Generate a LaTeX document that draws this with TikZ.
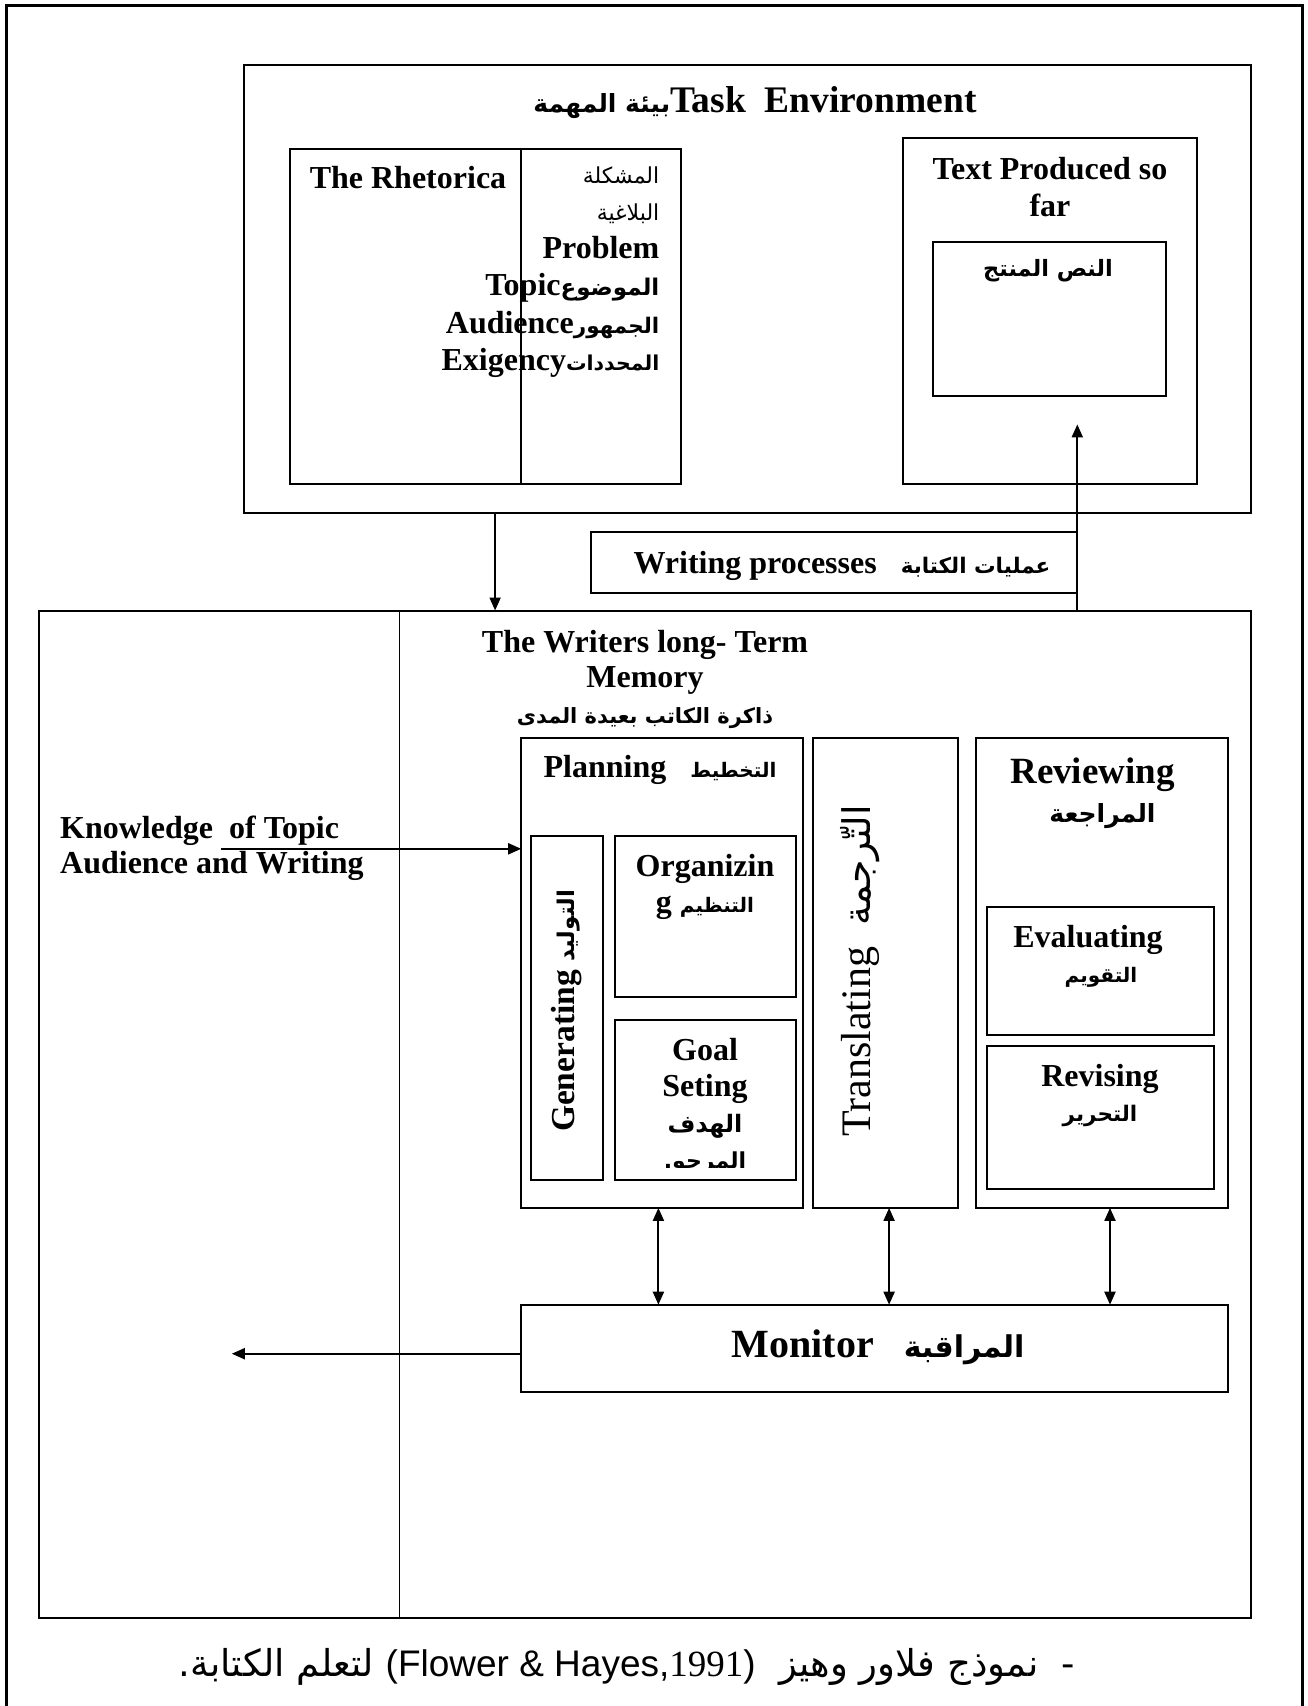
\documentclass[tikz,border=0pt]{standalone}
\usepackage{fontspec}
\setmainfont{Liberation Serif}
\newfontfamily\ar[Script=Arabic]{DejaVu Sans}
\newfontfamily\arial{Liberation Sans}
\TeXXeTstate=1
\usetikzlibrary{arrows.meta}
% right-to-left Arabic run at a given size (pt)
\newcommand{\arb}[2]{{\ar\fontsize{#1}{\baselineskip}\selectfont\beginR #2\endR}}

\begin{document}
\begin{tikzpicture}[x=1pt,y=-1pt,
  box/.style={draw, line width=2pt, inner sep=0pt, outer sep=0pt, anchor=north west},
  lbl/.style={inner sep=0pt, align=center, font=\bfseries\fontsize{32}{36}\selectfont},
  conn/.style={line width=2pt, -{Triangle[length=13pt,width=11pt]}},
  both/.style={line width=2pt, {Triangle[length=13pt,width=11pt]}-{Triangle[length=13pt,width=11pt]}},
]
\useasboundingbox (0,0) rectangle (1308,1706);

% page frame, open at the bottom
\draw[line width=3pt] (6,1706) -- (6,5.5) -- (1302,5.5) -- (1302,1706);

% ---------- task environment ----------
\node[box, minimum width=1007.6pt, minimum height=447.2pt] (te) at (243.8,65.3) {};
\node[lbl, font=\bfseries\fontsize{37.5}{40}\selectfont] (tet) at (755,103)
  {\arb{25}{بيئة المهمة}Task\ \ Environment};

\node[box, minimum width=391.7pt, minimum height=335.3pt] (rh) at (289.5,149) {};
\coordinate (rhdt) at (521.2,149);
\coordinate (rhdb) at (521.2,484.3);
\draw[line width=1.5pt] (rhdt) -- (rhdb);
\node[lbl] (rht) at (408,178) {The Rhetorica};
\node[lbl, align=right, anchor=east, font=\bfseries\fontsize{32}{37.5}\selectfont] (rhl) at (659.5,272)
  {{\mdseries\arb{22}{المشكلة}}\\
   {\mdseries\arb{22}{البلاغية}}\\
   Problem\\
   Topic\arb{23}{الموضوع}\\
   Audience\arb{21.5}{الجمهور}\\
   Exigency\arb{20.5}{المحددات}};

\node[box, minimum width=293.8pt, minimum height=346.1pt] (tp) at (903.2,138.2) {};
\node[lbl, font=\bfseries\fontsize{32}{37}\selectfont] (tpt) at (1050,187) {Text Produced so\\far};
\node[box, minimum width=232.9pt, minimum height=154.5pt] (np) at (932.6,241.6) {};
\node[lbl] (npt) at (1048,271) {\arb{22.5}{النص المنتج}};

% ---------- writing processes ----------
\node[box, minimum width=486.4pt, minimum height=61pt] (wp) at (590.9,532.1) {};
\node[lbl] (wpt) at (842,566) {Writing processes\ \ \ \arb{21.5}{عمليات الكتابة}};

% ---------- long-term memory and processes ----------
\node[box, minimum width=1212.2pt, minimum height=1007.6pt] (ltm) at (39.2,610.5) {};
\coordinate (ltmdt) at (399.4,610.5);
\coordinate (ltmdb) at (399.4,1618.1);
\draw[line width=1.5pt] (ltmdt) -- (ltmdb);
\node[lbl, font=\bfseries\fontsize{32}{35.5}\selectfont] (ltmt) at (645,679)
  {The Writers long- Term\\Memory\\\arb{21}{ذاكرة الكاتب بعيدة المدى}};

\node[lbl, align=left, anchor=west, font=\bfseries\fontsize{32}{35}\selectfont] (know) at (60,848)
  {Knowledge\ \ of Topic\\Audience and Writing};

% planning
\node[box, minimum width=281.9pt, minimum height=470.1pt] (pl) at (521.2,737.8) {};
\node[lbl] (plt) at (660,770) {Planning\ \ \ \arb{20}{التخطيط}};
\node[box, minimum width=71.9pt, minimum height=343.9pt] (gen) at (531,835.7) {};
\node[lbl, rotate=90, font=\bfseries\fontsize{33.5}{36}\selectfont] (gent) at (567,1011) {Generating \arb{23}{التوليد}};
\node[box, minimum width=180.7pt, minimum height=161.1pt] (org) at (614.8,835.7) {};
\node[lbl] (orgt) at (705,887) {Organizin\\g \arb{20}{التنظيم}};
\node[box, minimum width=180.7pt, minimum height=160pt] (goal) at (614.8,1019.6) {};
\begin{scope}
  \clip (614.8,1019.6) rectangle (795.5,1167);
  \node[lbl] (goalt) at (705,1106.5) {Goal\\Seting\\\arb{24}{الهدف}\\\arb{22}{المرجو.}};
\end{scope}

% translating
\node[box, minimum width=144.7pt, minimum height=470.1pt] (tr) at (812.9,737.8) {};
\node[inner sep=0pt, rotate=90, font=\fontsize{42}{46}\selectfont] (trt) at (860,971)
  {Translating\ \ \arb{38}{التّرجمة}};

% reviewing
\node[box, minimum width=251.4pt, minimum height=470.1pt] (rv) at (976.1,737.8) {};
\node[lbl, font=\bfseries\fontsize{37}{39.5}\selectfont] (rvt) at (1092.5,793)
  {Reviewing\\\hspace*{20pt}\arb{25}{المراجعة}};
\node[box, minimum width=227.4pt, minimum height=128.4pt] (ev) at (987,906.5) {};
\node[lbl, font=\bfseries\fontsize{32}{35}\selectfont] (evt) at (1088,956.5)
  {Evaluating\\\hspace*{26pt}\arb{20}{التقويم}};
\node[box, minimum width=227.4pt, minimum height=143.6pt] (rs) at (987,1045.8) {};
\node[lbl, font=\bfseries\fontsize{32}{35}\selectfont] (rst) at (1100,1096) {Revising\\\arb{21.5}{التحرير}};

% monitor
\node[box, minimum width=706.3pt, minimum height=87.1pt] (mon) at (521.2,1304.7) {};
\node[lbl, anchor=base, font=\bfseries\fontsize{40}{44}\selectfont] (mont) at (878,1357)
  {Monitor\ \ \ \arb{30}{المراقبة}};

% ---------- connectors ----------
\draw[conn] (te.south -| 495.1,0) -- (ltm.north -| 495.1,0);
\coordinate (tpin) at (1077.3,424.4);
\draw[conn] (ltm.north -| tpin) -- (tpin);
\coordinate (kstart) at (221,848.8);
\draw[conn] (kstart) -- (kstart -| pl.west);
\draw[both] (pl.south -| 658.4,0) -- (mon.north -| 658.4,0);
\draw[both] (tr.south -| 889.1,0) -- (mon.north -| 889.1,0);
\draw[both] (rv.south -| 1110,0) -- (mon.north -| 1110,0);
\coordinate (mout) at (231.8,1353.7);
\draw[conn] (mon.west |- mout) -- (mout);

% ---------- caption ----------
\node[inner sep=0pt, font=\fontsize{46}{50}\selectfont] (cap) at (627,1667)
  {\arb{37}{- \ نموذج فلاور وهيز \ \beginL{\arial (Flower \& Hayes,}{\rmfamily 1991}{\arial )}\endL{} لتعلم الكتابة.}};
\end{tikzpicture}
\end{document}
